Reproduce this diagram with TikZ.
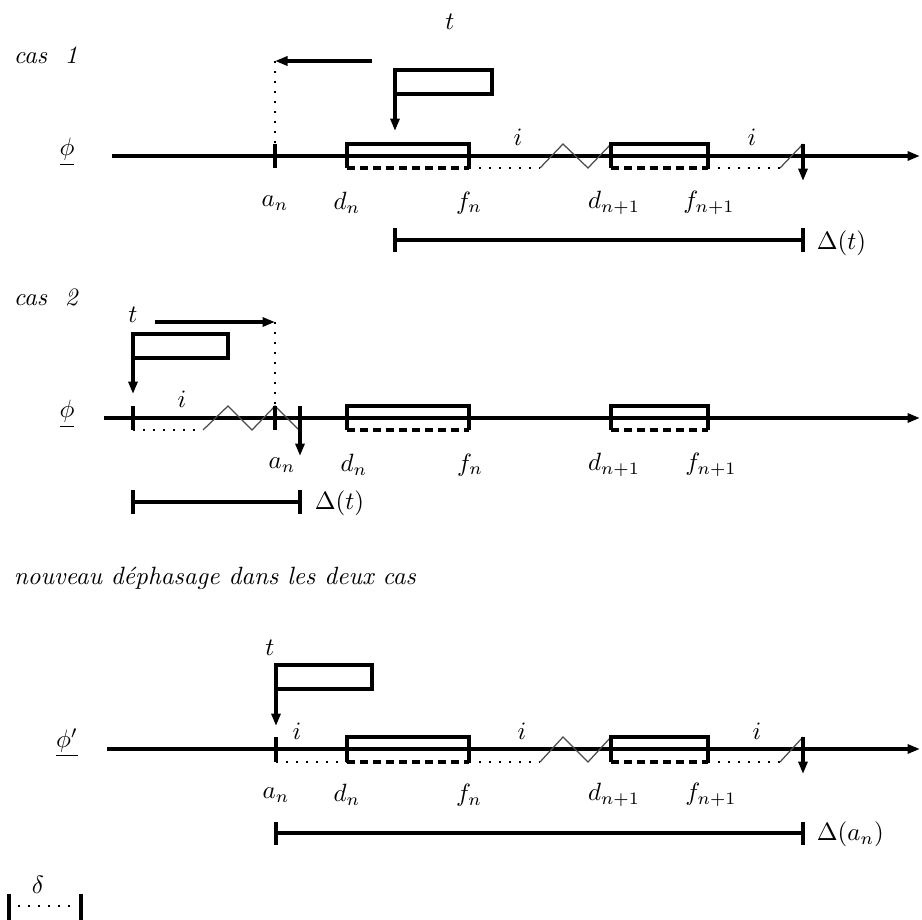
\documentclass[tikz,border=0pt]{standalone}
\usetikzlibrary{arrows.meta}
\tikzset{
  axe/.style={line width=1.3pt,-{Triangle[length=5pt,width=3.6pt]}},
  trait/.style={line width=1.7pt},
  boite/.style={line width=1.5pt},
  bas/.style={line width=1.5pt,dash pattern=on 3.2pt off 2pt},
  pointille/.style={line width=0.8pt,dash pattern=on 0.8pt off 3.2pt},
  zigzag/.style={line width=0.5pt,black!70},
  fleche/.style={line width=1.5pt,-{Triangle[length=5pt,width=3.6pt]}},
}
\begin{document}
\begin{tikzpicture}[x=0.4pt,y=-0.4pt]
\useasboundingbox (0,0) rectangle (922,920);
% cas 1
\node[anchor=west] (cas1) at (5,55) {\itshape cas~~1};
\node (t1) at (450,22) {$t$};
\node (phi1) at (67,152) {$\underline{\phi}$};
\draw[axe] (112,156)--(920,156);
\draw[trait] (275,144)--(275,168);
\draw[boite] (347,168)--(347,144)--(469,144)--(469,168);
\draw[bas] (347,168)--(469,168);
\draw[pointille] (469,168)--(540,168);
\draw[zigzag] (540,168)--(563,144)--(588,168)--(611,144);
\draw[boite] (611,168)--(611,144)--(708,144)--(708,168);
\draw[bas] (611,168)--(708,168);
\draw[pointille] (708,168)--(780,168);
\draw[zigzag] (780,168)--(803,144);
\draw[fleche] (803,144)--(803,181);
\node (i11) at (518,137) {$i$};
\node (i12) at (752,137) {$i$};
\node (a1) at (275,203) {$a_n$};
\node (d1) at (347,203) {$d_n$};
\node (f1) at (469,203) {$f_n$};
\node (dd1) at (614,203) {$d_{n+1}$};
\node (ff1) at (709,203) {$f_{n+1}$};
\draw[fleche] (372,61)--(275,61);
\draw[pointille] (275,61)--(275,144);
\draw[fleche] (395,94)--(492,94)--(492,70)--(395,70)--(395,131);
\draw[trait] (395,228)--(395,252);
\draw[boite] (395,240)--(803,240);
\draw[trait] (803,228)--(803,252);
\node[anchor=west] (delta1) at (808,243) {$\Delta(t)$};
% cas 2
\node[anchor=west] (cas2) at (5,297) {\itshape cas~~2};
\node (t2) at (133,315) {$t$};
\node (phi2) at (67,414) {$\underline{\phi}$};
\draw[axe] (104,418)--(920,418);
\draw[trait] (133,406)--(133,430);
\draw[pointille] (133,430)--(203,430);
\draw[zigzag] (203,430)--(228,406)--(252,430)--(275,406)--(298,429);
\draw[trait] (275,406)--(275,430);
\draw[fleche] (300,406)--(300,456);
\draw[boite] (347,430)--(347,406)--(469,406)--(469,430);
\draw[bas] (347,430)--(469,430);
\draw[boite] (611,430)--(611,406)--(708,406)--(708,430);
\draw[bas] (611,430)--(708,430);
\node (i2) at (182,399) {$i$};
\node (a2) at (282,465) {$a_n$};
\node (d2) at (354,465) {$d_n$};
\node (f2) at (470,465) {$f_n$};
\node (dd2) at (614,465) {$d_{n+1}$};
\node (ff2) at (711,465) {$f_{n+1}$};
\draw[fleche] (155,322)--(275,322);
\draw[pointille] (275,322)--(275,406);
\draw[fleche] (133,358)--(228,358)--(228,334)--(133,334)--(133,394);
\draw[trait] (133,490)--(133,514);
\draw[boite] (133,502)--(300,502);
\draw[trait] (300,490)--(300,514);
\node[anchor=west] (delta2) at (306,503) {$\Delta(t)$};
% nouveau dephasage
\node[anchor=west] (nouv) at (5,578) {\itshape nouveau~d\'ephasage~dans~les~deux~cas};
\node (t3) at (270,648) {$t$};
\node (phi3) at (67,743) {$\underline{\phi'}$};
\draw[axe] (107,749)--(920,749);
\draw[trait] (276,737)--(276,762);
\draw[pointille] (276,762)--(347,762);
\draw[boite] (347,762)--(347,737)--(469,737)--(469,762);
\draw[bas] (347,762)--(469,762);
\draw[pointille] (469,762)--(540,762);
\draw[zigzag] (540,762)--(563,737)--(588,762)--(611,737);
\draw[boite] (611,762)--(611,737)--(708,737)--(708,762);
\draw[bas] (611,762)--(708,762);
\draw[pointille] (708,762)--(780,762);
\draw[zigzag] (780,762)--(803,737);
\draw[fleche] (803,737)--(803,774);
\node (i31) at (297,731) {$i$};
\node (i32) at (522,731) {$i$};
\node (i33) at (757,731) {$i$};
\node (a3) at (276,795) {$a_n$};
\node (d3) at (347,795) {$d_n$};
\node (f3) at (469,795) {$f_n$};
\node (dd3) at (614,795) {$d_{n+1}$};
\node (ff3) at (711,795) {$f_{n+1}$};
\draw[fleche] (276,689)--(372,689)--(372,665)--(276,665)--(276,726);
\draw[trait] (276,822)--(276,845);
\draw[boite] (276,833)--(803,833);
\draw[trait] (803,822)--(803,845);
\node[anchor=west] (delta3) at (808,834) {$\Delta(a_n)$};
% delta
\node (dl) at (38,885) {$\delta$};
\draw[trait] (9,894)--(9,920);
\draw[trait] (81,894)--(81,920);
\draw[pointille] (18,906)--(74,906);
\end{tikzpicture}
\end{document}
